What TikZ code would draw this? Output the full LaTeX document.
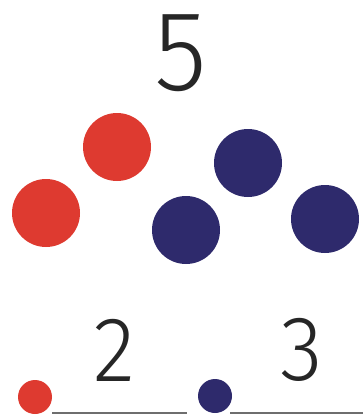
\documentclass[tikz,border=0pt]{standalone}
\usepackage{fontspec}
\setmainfont{Liberation Sans}
\newfontfamily\thinfont{Fira Sans Light}
\definecolor{dotred}{RGB}{222,58,48}
\definecolor{dotblue}{RGB}{46,42,108}
\definecolor{linegray}{RGB}{110,110,110}
\begin{document}
\begin{tikzpicture}[x=1pt,y=-1pt,
  bigdot/.style={circle,inner sep=0pt,minimum size=68pt},
  smalldot/.style={circle,inner sep=0pt,minimum size=34pt},
  numlabel/.style={inner sep=0pt,text=black!85,xscale=0.95},
  baseline/.style={draw=linegray,line width=1.6pt}]
\useasboundingbox (0,0) rectangle (363,420);
\node[numlabel,font=\thinfont\fontsize{114}{114}\selectfont] (five) at (181,53) {5};
\node[bigdot,fill=dotred] (r1) at (117,147) {};
\node[bigdot,fill=dotred] (r2) at (46,213) {};
\node[bigdot,fill=dotblue] (b1) at (248,163) {};
\node[bigdot,fill=dotblue] (b2) at (186,230) {};
\node[bigdot,fill=dotblue] (b3) at (325,219) {};
\node[numlabel,font=\thinfont\fontsize{92}{92}\selectfont] (two) at (114,350) {2};
\node[numlabel,font=\thinfont\fontsize{92}{92}\selectfont] (three) at (302,350) {3};
\node[smalldot,fill=dotred] (rs) at (35,397) {};
\node[smalldot,fill=dotblue] (bs) at (215,396) {};
\coordinate (l1a) at (52,413);
\coordinate (l1b) at (187,413);
\coordinate (l2a) at (230,413);
\coordinate (l2b) at (363,413);
\draw[baseline] (l1a) -- (l1b);
\draw[baseline] (l2a) -- (l2b);
\end{tikzpicture}
\end{document}
